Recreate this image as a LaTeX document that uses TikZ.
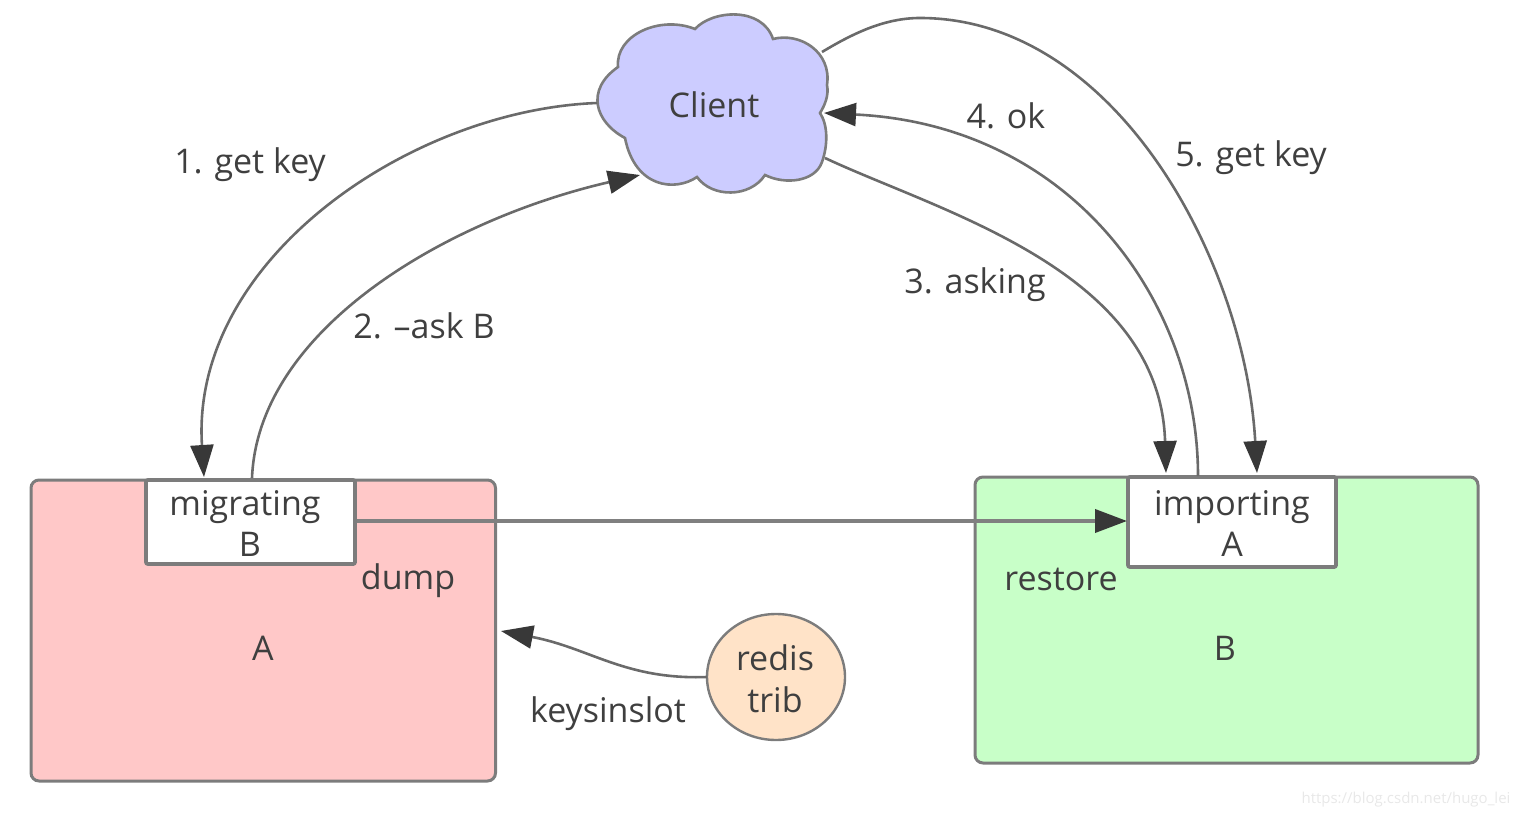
\documentclass[tikz,border=0pt]{standalone}
\usepackage{fontspec}
\setmainfont{Open Sans}
\usetikzlibrary{arrows.meta,shapes.geometric}
\definecolor{inkc}{HTML}{3F3F3F}
\definecolor{edgec}{HTML}{7C7C7C}
\definecolor{linkc}{HTML}{6A6A6A}
\tikzset{
  lbl/.style={text=inkc,font=\fontsize{34}{40}\selectfont,inner sep=0pt,align=center},
  hostbox/.style={draw=edgec,line width=3pt,rounded corners=8pt,outer sep=0pt,anchor=north west},
  slotbox/.style={draw=edgec,line width=3.8pt,fill=white,rounded corners=2pt,outer sep=0pt,anchor=north west},
  link/.style={draw=linkc,line width=2.6pt},
  tip/.style={link,-{Triangle[length=32pt,width=23pt,color=black!78]}},
}
\begin{document}
\begin{tikzpicture}[x=1pt,y=-1pt]
\useasboundingbox (0,0) rectangle (1518,818);
% server shards
\node[hostbox,fill={rgb,255:red,255;green,200;blue,200},minimum width=464.5pt,minimum height=301pt] (shardA) at (31,480) {};
\node[hostbox,fill={rgb,255:red,200;green,255;blue,200},minimum width=503pt,minimum height=286pt] (shardB) at (975,477) {};
\node[slotbox,minimum width=209pt,minimum height=84pt] (migr) at (146,480) {};
\node[slotbox,minimum width=208pt,minimum height=90pt] (impo) at (1128,477) {};
% the client cloud
\draw[draw=edgec,line width=2.6pt,fill={rgb,255:red,204;green,204;blue,255}]
  (695,29) .. controls (712,10) and (762,6) .. (773,39)
  .. controls (800,32) and (832,52) .. (827,85)
  .. controls (829,95) and (825,105) .. (820,113)
  .. controls (828,125) and (828,145) .. (822,162)
  .. controls (815,182) and (785,185) .. (765,175)
  .. controls (750,198) and (712,198) .. (697,177)
  .. controls (675,192) and (635,188) .. (625,138)
  .. controls (595,122) and (585,90) .. (618,67)
  .. controls (615,35) and (660,15) .. (695,29) -- cycle;
\node[lbl] (client) at (714,105) {Client};
\coordinate (cloudW) at (597,103);
\coordinate (cloudSW) at (640,175);
\coordinate (cloudE) at (824,113);
\coordinate (cloudSE) at (825,158);
\coordinate (cloudNE) at (822,52);
\coordinate (cloudArc) at (920,18);
\coordinate (migrTop) at (204,477);
\coordinate (migrOut) at (252,478);
\coordinate (impoIn) at (1166,473);
\coordinate (impoOut) at (1198,476);
\coordinate (impoIn2) at (1257,473);
\coordinate (migrE) at (357,521);
\coordinate (impoW) at (1127,521);
\coordinate (shardAE) at (501,631);
% tool node
\node[draw=edgec,line width=2.4pt,fill={rgb,255:red,255;green,227;blue,200},ellipse,minimum width=138pt,minimum height=126pt,inner sep=0pt,outer sep=0pt] (trib) at (776,677) {};
\coordinate (tribW) at (707,677);
% connectors
\draw[tip] (cloudW) .. controls (410,110) and (190,260) .. (migrTop);
\draw[tip] (migrOut) .. controls (258,330) and (445,220) .. (cloudSW);
\draw[tip] (cloudSE) .. controls (940,212) and (1160,270) .. (impoIn);
\draw[tip] (impoOut) .. controls (1198,300) and (1070,125) .. (cloudE);
\draw[tip] (cloudNE) .. controls (852,34) and (884,18) .. (cloudArc) .. controls (1115,18) and (1245,260) .. (impoIn2);
\draw[tip,line width=3.8pt,draw=black!50] (migrE) -- (impoW);
\draw[tip] (tribW) .. controls (625,680) and (590,648) .. (shardAE);
% labels
\node[lbl] (l1) at (250,165) {1. get key};
\node[lbl] (l2) at (424,326) {2. –ask B};
\node[lbl] (l3) at (975,285) {3. asking};
\node[lbl] (l4) at (1006,116) {4. ok};
\node[lbl] (l5) at (1251,158) {5. get key};
\node[lbl] (tm) at (245,507) {migrating};
\node[lbl] (tb) at (250,544) {B};
\node[lbl] (ti) at (1232,507) {importing};
\node[lbl] (ta) at (1232,544) {A};
\node[lbl] (dump) at (408,581) {dump};
\node[lbl] (rest) at (1061,579) {restore};
\node[lbl] (nA) at (263,648) {A};
\node[lbl] (nB) at (1225,648) {B};
\node[lbl] (ksl) at (608,714) {keysinslot};
\node[lbl] (tr1) at (775,658) {redis};
\node[lbl] (tr2) at (775,700) {trib};
\node[text=black!9,font=\fontsize{15}{18}\selectfont,inner sep=0pt] (wm) at (1406,800) {https://blog.csdn.net/hugo\_lei};
\end{tikzpicture}
\end{document}
